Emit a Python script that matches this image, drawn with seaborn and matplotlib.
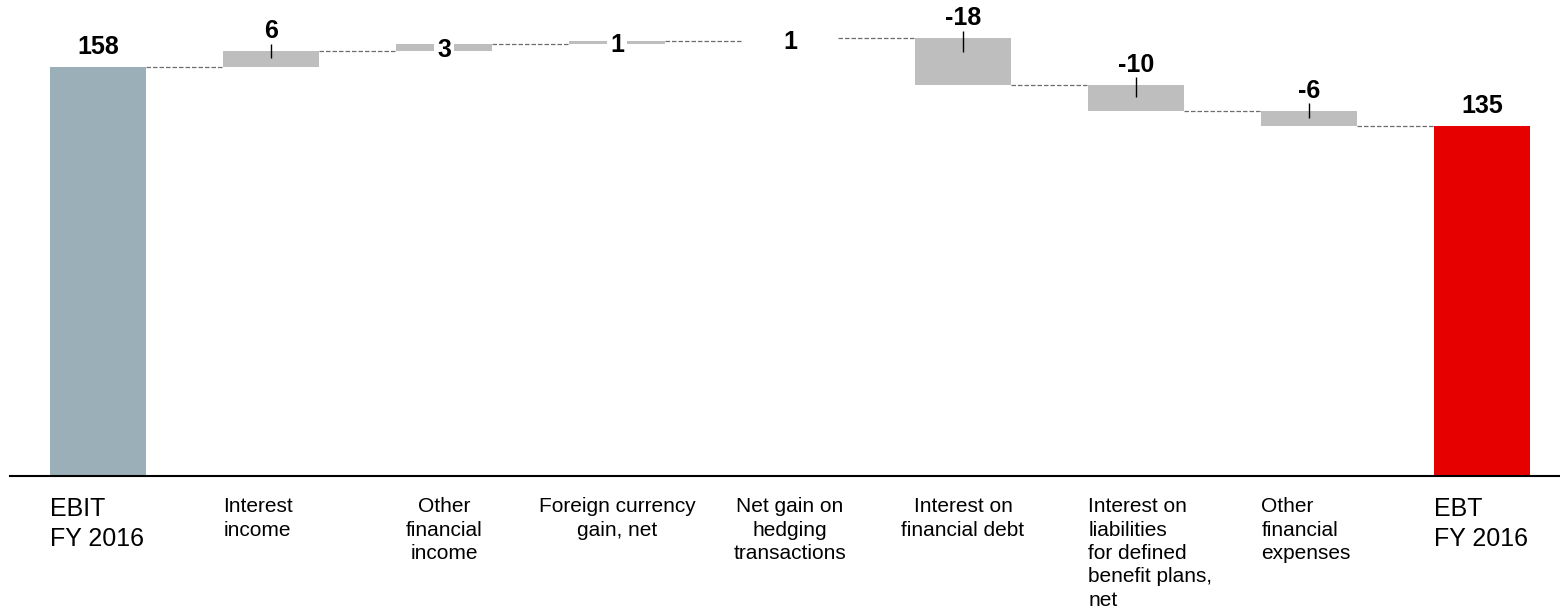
import numpy as np
import pandas as pd
import matplotlib
matplotlib.use("Agg")
import matplotlib.pyplot as plt
import seaborn as sns
from matplotlib.transforms import blended_transform_factory

# ---------------- data ----------------
categories = ["EBIT FY 2016", "Interest income", "Other financial income",
              "Foreign currency gain, net", "Net gain on hedging transactions",
              "Interest on financial debt",
              "Interest on liabilities for defined benefit plans, net",
              "Other financial expenses", "EBT FY 2016"]
tick_labels = ["EBIT\nFY 2016", "Interest\nincome", "Other\nfinancial\nincome",
               "Foreign currency\ngain, net", "Net gain on\nhedging\ntransactions",
               "Interest on\nfinancial debt",
               "Interest on\nliabilities\nfor defined\nbenefit plans,\nnet",
               "Other\nfinancial\nexpenses", "EBT\nFY 2016"]
values = [158, 6, 3, 1, 1, -18, -10, -6, 135]
is_total = [True, False, False, False, False, False, False, False, True]
value_labels = ["158", "6", "3", "1", "1", "-18", "-10", "-6", "135"]

# ---------------- style ----------------
bar_colors = ["#9AAFB8", "#BEBEBE", "#BEBEBE", "#BEBEBE", "#FFFFFF",
              "#BEBEBE", "#BEBEBE", "#BEBEBE", "#E60000"]
label_align = ["left", "left", "center", "center", "center", "center",
               "left", "left", "left"]
bar_w = 0.55

sns.set_theme(style="white")
plt.rcParams["font.family"] = ["Liberation Sans", "DejaVu Sans"]

# waterfall geometry from the values
bottoms, heights, levels = [], [], []
run = 0
for v, t in zip(values, is_total):
    if t:
        bottoms.append(0)
        heights.append(v)
        run = v
    else:
        new = run + v
        bottoms.append(min(run, new))
        heights.append(abs(v))
        run = new
    levels.append(run)

df = pd.DataFrame({"category": categories, "height": heights})

W, H = 1560, 616
fig = plt.figure(figsize=(W / 100, H / 100), dpi=100)
ax_left_px, ax_bottom_px = 10, 140
ax = fig.add_axes([ax_left_px / W, ax_bottom_px / H, 1 - ax_left_px / W, 1 - ax_bottom_px / H])

sns.barplot(data=df, x="category", y="height", hue="category",
            order=categories, hue_order=categories,
            palette=dict(zip(categories, bar_colors)), legend=False,
            width=bar_w, saturation=1, linewidth=0, ax=ax)

for patch, b in zip(ax.patches, bottoms):
    patch.set_y(b)

ymax = 183.8
ax.set_xlim(-0.5087, len(categories) - 1 + 0.451)
ax.set_ylim(0, ymax)
ax.set_xticks([])
ax.set_yticks([])
ax.set_xlabel("")
ax.set_ylabel("")
for s in ["top", "left", "right"]:
    ax.spines[s].set_visible(False)
ax.spines["bottom"].set_color("black")
ax.spines["bottom"].set_linewidth(1.5)

ppu = (H - ax_bottom_px) / ymax  # pixels per unit
PT = 0.72  # points per pixel at 100 dpi

# connectors
for i in range(len(values) - 1):
    ax.plot([i + bar_w / 2, i + 1 - bar_w / 2], [levels[i], levels[i]],
            color="#6E6E6E", lw=0.9, ls=(0, (3.6, 1.6)), zorder=3)

# value labels
for i, (v, t, lab) in enumerate(zip(values, is_total, value_labels)):
    top = bottoms[i] + heights[i]
    if (not t) and abs(v) < 5:
        mid = bottoms[i] + heights[i] / 2
        ax.text(i, mid, lab, ha="center", va="center_baseline", fontsize=18,
                fontweight="bold", color="black", zorder=4,
                bbox=dict(boxstyle="square,pad=0.12", fc="white", ec="none"))
    else:
        ax.annotate(lab, (i, top), xytext=(0, 13 * PT), textcoords="offset points",
                    ha="center", va="baseline", fontsize=18, fontweight="bold",
                    color="black", annotation_clip=False)
        if not t:
            down = min(heights[i] * ppu / 2 - 1, 14)
            ax.vlines(i, top - down / ppu, top + 7.5 / ppu, color="black", lw=1.0, zorder=4)

# category labels
trans = blended_transform_factory(ax.transData, ax.transAxes)
for i, (txt, al, t) in enumerate(zip(tick_labels, label_align, is_total)):
    x = i - bar_w / 2 if al == "left" else i
    fs = 18 if t else 15
    ax.annotate(txt, xy=(x, 0), xycoords=trans, xytext=(0, -21 * PT),
                textcoords="offset points", ha=al, va="top", multialignment=al,
                fontsize=fs, linespacing=1.3 if not t else 1.33, color="black",
                annotation_clip=False)

fig.savefig("out.png", dpi=100, facecolor="white")
